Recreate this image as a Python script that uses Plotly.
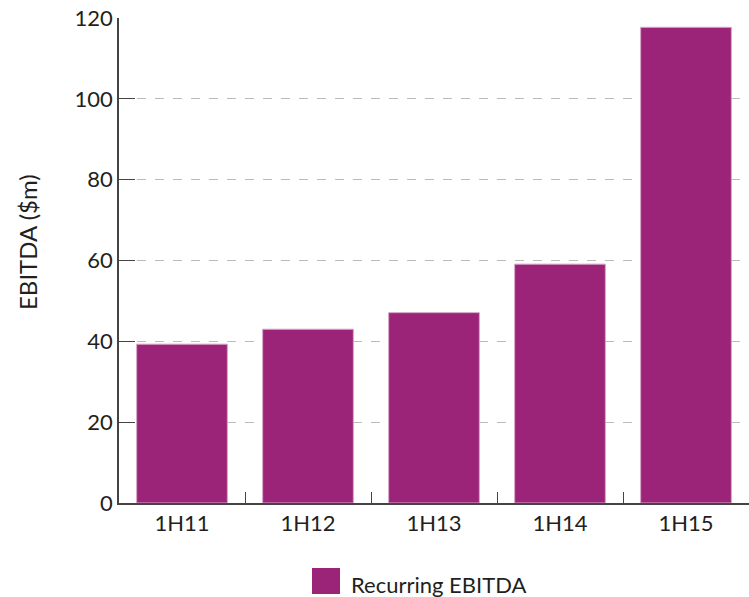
import plotly.graph_objects as go

categories = ["1H11", "1H12", "1H13", "1H14", "1H15"]
ebitda = [39.3, 43.0, 47.1, 59.1, 117.7]
y_ticks = [0, 20, 40, 60, 80, 100, 120]
series_name = "Recurring EBITDA"
y_title = "EBITDA ($m)"
bar_color = "#9C2478"
font_family = "Lato, 'Open Sans', sans-serif"

fig = go.Figure()
fig.add_trace(go.Bar(
    x=categories, y=ebitda, name=series_name,
    marker=dict(color=bar_color, line=dict(color="#D9A6C8", width=1)),
    showlegend=False,
))

fig.update_layout(
    width=749, height=597,
    margin=dict(l=119, r=0, t=18, b=94),
    paper_bgcolor="white", plot_bgcolor="white",
    font=dict(family=font_family, size=22, color="#231F20"),
    bargap=0.28,
    xaxis=dict(
        showline=True, linecolor="#444", linewidth=1.5,
        ticks="inside", tickson="boundaries", ticklen=11, tickcolor="#444", tickwidth=1.2,
        tickfont=dict(size=22), showgrid=False,
    ),
    yaxis=dict(
        range=[0, 120], tickvals=y_ticks, showline=True, linecolor="#444", linewidth=1.5,
        ticks="inside", ticklen=16, tickcolor="#444", tickwidth=1.2,
        showgrid=True, gridcolor="#BBBBBB", griddash="dash", gridwidth=1,
        tickfont=dict(size=22), zeroline=False,
    ),
)

# y-axis title (placed slightly above the axis centre, as in the reference)
fig.add_annotation(text=y_title, xref="paper", yref="paper",
                   x=(27 - 119) / 630, y=(503 - 242) / 485,
                   xanchor="center", yanchor="middle", textangle=-90,
                   showarrow=False, font=dict(size=24, color="#231F20"))

# legend drawn manually below the plot
fig.add_shape(type="rect", xref="paper", yref="paper",
              x0=(312 - 119) / 630, x1=(340 - 119) / 630,
              y0=(503 - 594) / 485, y1=(503 - 568) / 485,
              fillcolor=bar_color, line=dict(width=0))
fig.add_annotation(text=series_name, xref="paper", yref="paper",
                   x=(349 - 119) / 630, y=(503 - 584) / 485,
                   xanchor="left", yanchor="middle", showarrow=False,
                   font=dict(size=22, color="#231F20"))

fig.write_html("out.html")
